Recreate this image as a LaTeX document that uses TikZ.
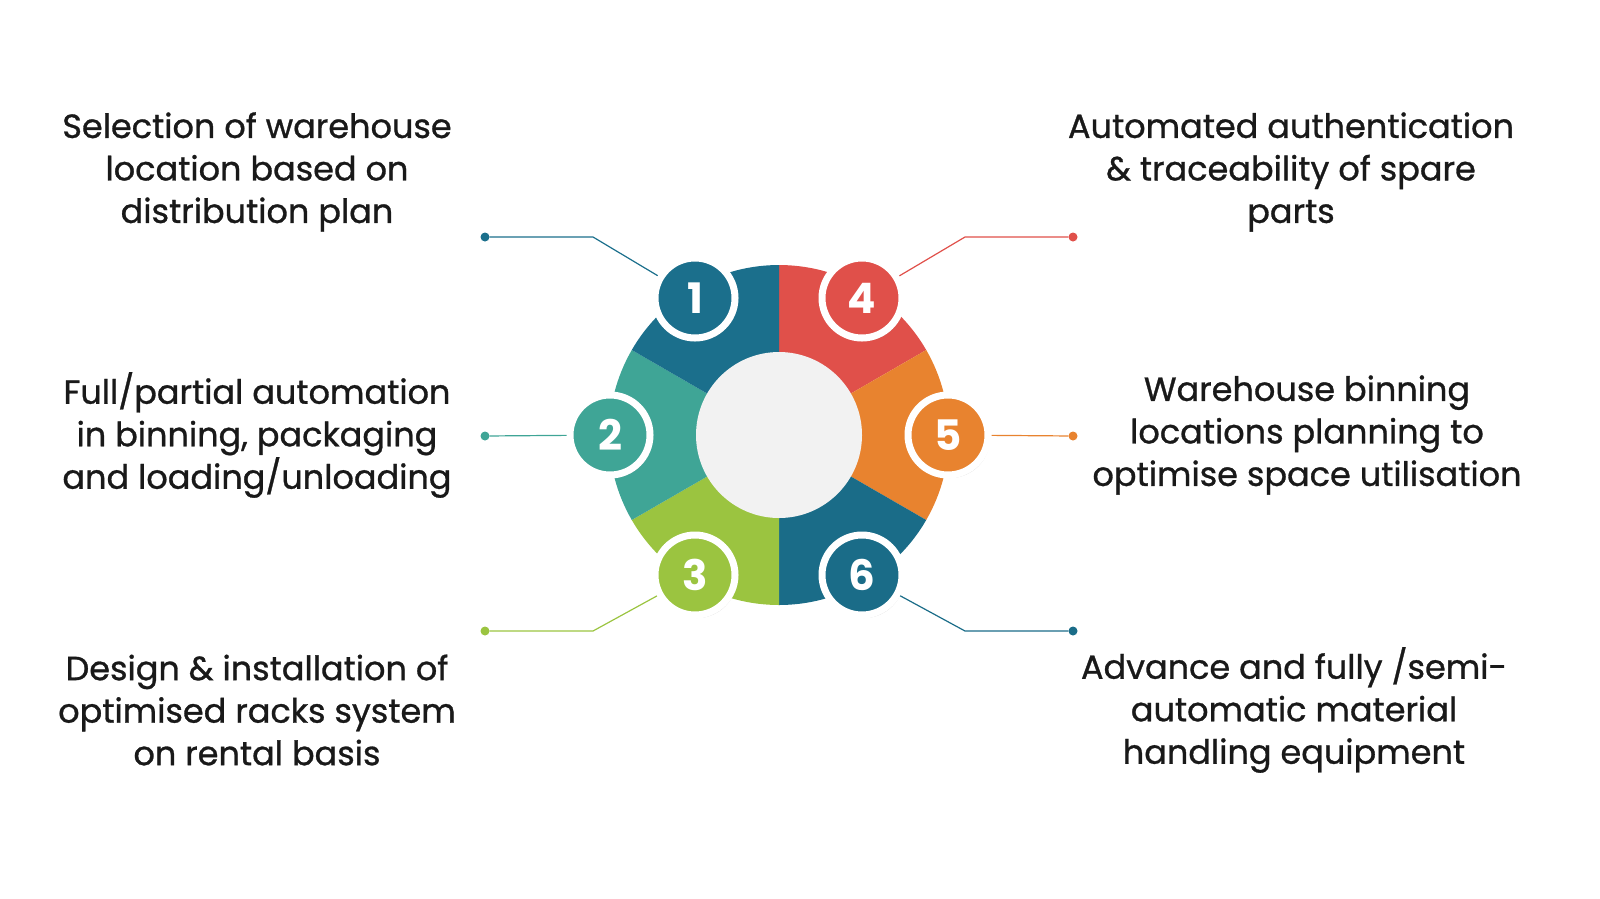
\documentclass[tikz,border=0pt]{standalone}
\usepackage{fontspec}
\setmainfont{Poppins}
\newfontfamily\medfont{Poppins}[FakeBold=0.9]
\usetikzlibrary{shadows}
\definecolor{cA}{HTML}{1B6F8C}
\definecolor{cB}{HTML}{3FA596}
\definecolor{cC}{HTML}{9BC440}
\definecolor{cD}{HTML}{E0504A}
\definecolor{cE}{HTML}{E8832F}
\definecolor{cF}{HTML}{1A6C88}
\begin{document}
\begin{tikzpicture}[x=1pt,y=-1pt,
  txt/.style={align=center,font=\medfont\fontsize{33.5}{42.5}\selectfont,text=black!90},
  badge/.style={circle,fill=#1,draw=white,line width=7pt,minimum size=80pt,text=white,font=\fontsize{42}{42}\selectfont\bfseries,
     drop shadow={shadow xshift=2pt,shadow yshift=-3pt,fill=black,opacity=0.18}},
  lead/.style={line width=1.2pt,draw=#1},
  dotn/.style={circle,fill=#1,inner sep=0pt,minimum size=9pt}]
\useasboundingbox (0,0) rectangle (1600,898);
\coordinate (c) at (779,435);
\foreach \a/\b/\col in {-90/-30/cD,-30/30/cE,30/90/cF,90/150/cC,150/210/cB,210/270/cA}{
  \fill[\col] (c) -- ++(\a:170) arc[start angle=\a,end angle=\b,radius=170] -- cycle;
}
\fill[white!95!black] (c) circle (83);
\node[badge=cA] (b1) at (695,298) {1};
\node[badge=cD] (b4) at (862,298) {4};
\node[badge=cB] (b2) at (610,435) {2};
\node[badge=cE] (b5) at (948,435) {5};
\node[badge=cC] (b3) at (695,575) {3};
\node[badge=cF] (b6) at (862,575) {6};
\node[dotn=cA] (d1) at (485,237) {};
\node[dotn=cD] (d4) at (1073,237) {};
\node[dotn=cB] (d2) at (485,436) {};
\node[dotn=cE] (d5) at (1073,436) {};
\node[dotn=cC] (d3) at (485,631) {};
\node[dotn=cF] (d6) at (1073,631) {};
\coordinate (k1) at (593,237);\coordinate (k4) at (965,237);
\coordinate (k3) at (593,631);\coordinate (k6) at (965,631);
\draw[lead=cA] (d1) -- (k1) -- (b1);
\draw[lead=cD] (d4) -- (k4) -- (b4);
\draw[lead=cB] (d2) -- (b2);
\draw[lead=cE] (d5) -- (b5);
\draw[lead=cC] (d3) -- (k3) -- (b3);
\draw[lead=cF] (d6) -- (k6) -- (b6);
\node[txt] (t1) at (257,172) {Selection of warehouse\\location based on\\distribution plan};
\node[txt] (t2) at (257,435) {Full/partial automation\\in binning, packaging\\and loading/unloading};
\node[txt] (t3) at (257,710) {Design \& installation of\\optimised racks system\\on rental basis};
\node[txt] (t4) at (1291,172) {Automated authentication\\\& traceability of spare\\parts};
\node[txt] (t5) at (1307,435) {Warehouse binning\\locations planning to\\optimise space utilisation};
\node[txt] (t6) at (1294,710) {Advance and fully /semi-\\automatic material\\handling equipment};
\end{tikzpicture}
\end{document}
